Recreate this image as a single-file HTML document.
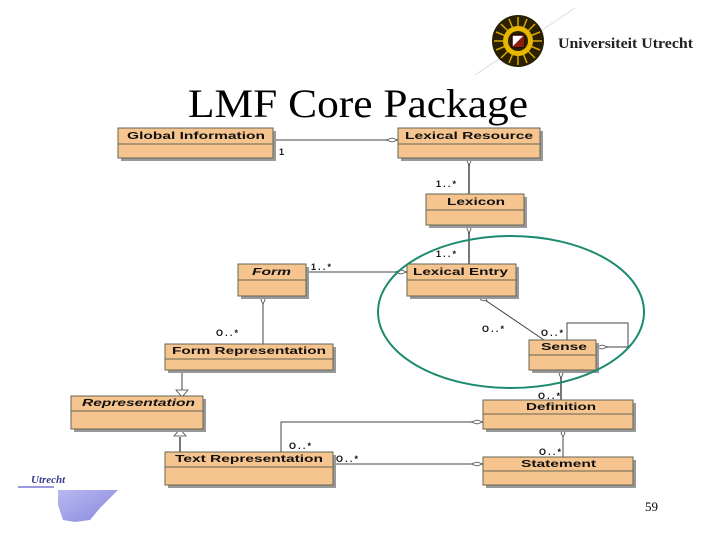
<!DOCTYPE html>
<html><head><style>html,body{margin:0;padding:0;background:#fff}svg{display:block}</style></head>
<body>
<svg width="720" height="540" viewBox="0 0 720 540" xmlns="http://www.w3.org/2000/svg" font-family="Liberation Sans, sans-serif">
<defs>
<linearGradient id="lg" x1="0" y1="0" x2="1" y2="1"><stop offset="0" stop-color="#b8b8f0"/><stop offset="1" stop-color="#8888e0"/></linearGradient>
</defs>
<line x1="475" y1="75" x2="575" y2="8" stroke="#ddd" stroke-width="1"/>
<g transform="translate(518,41)">
<circle r="26" fill="#2a2000"/>
<g stroke="#d8a800" stroke-width="1.5">
<line x1="-24" y1="0" x2="24" y2="0"/><line x1="0" y1="-24" x2="0" y2="24"/>
<line x1="-17" y1="-17" x2="17" y2="17"/><line x1="-17" y1="17" x2="17" y2="-17"/>
<line x1="-22" y1="-9" x2="22" y2="9"/><line x1="-22" y1="9" x2="22" y2="-9"/>
<line x1="-9" y1="-22" x2="9" y2="22"/><line x1="9" y1="-22" x2="-9" y2="22"/>
</g>
<circle r="15" fill="#e8b800"/>
<circle r="10" fill="#2a2000"/>
<rect x="-6" y="-6" width="12" height="12" fill="#fff" stroke="#300" stroke-width="1.5"/>
<path d="M-6 6 L6 -6 L6 6 Z" fill="#8a2010"/>
</g>
<text x="558" y="48" font-family="Liberation Serif, serif" font-size="15" font-weight="bold" fill="#222" textLength="135" lengthAdjust="spacingAndGlyphs">Universiteit Utrecht</text>
<text x="188" y="117" font-family="Liberation Serif, serif" font-size="40" fill="#000" textLength="340" lengthAdjust="spacingAndGlyphs">LMF Core Package</text>
<text x="31" y="483" font-family="Liberation Serif, serif" font-style="italic" font-weight="bold" font-size="11" fill="#3a3a90">Utrecht</text>
<rect x="18" y="486" width="36" height="2" fill="#9999dd"/>
<path d="M58 490 L118 490 L100 508 L90 520 L75 522 L63 520 L58 505 Z" fill="url(#lg)"/>
<text x="645" y="511" font-family="Liberation Serif, serif" font-size="13" fill="#000">59</text>

<g stroke="#444" stroke-width="1" fill="none">
<line x1="273" y1="140" x2="398" y2="140"/>
<line x1="469" y1="158" x2="469" y2="194" stroke-width="2" stroke="#777"/>
<line x1="469" y1="225" x2="469" y2="264" stroke-width="2" stroke="#777"/>
<line x1="306" y1="272" x2="407" y2="272"/>
<line x1="263" y1="296" x2="263" y2="344"/>
<line x1="482" y1="298" x2="544" y2="340"/>
<path d="M567 340 L567 323 L628 323 L628 347 L596 347"/>
<line x1="561" y1="370" x2="561" y2="400" stroke-width="2" stroke="#777"/>
<line x1="182" y1="370" x2="182" y2="390"/>
<line x1="180" y1="437" x2="180" y2="452" stroke-width="2" stroke="#777"/>
<path d="M281 452 L281 422 L483 422"/>
<line x1="333" y1="464" x2="483" y2="464"/>
<line x1="563" y1="432" x2="563" y2="457"/>
</g>
<g fill="#fff" stroke="#444" stroke-width="0.8">
<path d="M386 140 L392 138 L398 140 L392 142 Z"/>
<path d="M469 157 L471 161 L469 165 L467 161 Z"/>
<path d="M469 225 L471 229 L469 233 L467 229 Z"/>
<path d="M395 272 L401 270 L407 272 L401 274 Z"/>
<path d="M263 296 L265 300 L263 304 L261 300 Z"/>
<path d="M479 296 L485 297 L487 301 L481 300 Z"/>
<path d="M596 347 L602 345 L608 347 L602 349 Z"/>
<path d="M561 370 L563 374 L561 378 L559 374 Z"/>
<path d="M471 422 L477 420 L483 422 L477 424 Z"/>
<path d="M563 429 L565 433 L563 437 L561 433 Z"/>
<path d="M471 464 L477 462 L483 464 L477 466 Z"/>
<path d="M176 390 L188 390 L182 397 Z"/>
<path d="M174 436 L186 436 L180 429 Z"/>
</g>
<g font-size="9" fill="#111" font-weight="bold" lengthAdjust="spacingAndGlyphs">
<text x="279" y="155">1</text>
<text x="436" y="187" textLength="20">1..*</text>
<text x="436" y="257" textLength="20">1..*</text>
<text x="311" y="270" textLength="20">1..*</text>
<text x="216" y="336" textLength="22">O..*</text>
<text x="482" y="332" textLength="22">O..*</text>
<text x="541" y="336" textLength="22">O..*</text>
<text x="538" y="399" textLength="22">O..*</text>
<text x="289" y="449" textLength="22">O..*</text>
<text x="336" y="462" textLength="22">O..*</text>
<text x="539" y="455" textLength="22">O..*</text>
</g>

<g font-size="10" font-weight="bold" fill="#111">
<rect x="121" y="131" width="155" height="30" fill="#999"/>
<rect x="118" y="128" width="155" height="30" fill="#f5c48f" stroke="#665"/>
<line x1="118" y1="144" x2="273" y2="144" stroke="#665"/>
<text x="127" y="139" textLength="138" lengthAdjust="spacingAndGlyphs">Global Information</text>

<rect x="401" y="131" width="142" height="30" fill="#999"/>
<rect x="398" y="128" width="142" height="30" fill="#f5c48f" stroke="#665"/>
<line x1="398" y1="144" x2="540" y2="144" stroke="#665"/>
<text x="405" y="139" textLength="128" lengthAdjust="spacingAndGlyphs">Lexical Resource</text>

<rect x="429" y="197" width="98" height="31" fill="#999"/>
<rect x="426" y="194" width="98" height="31" fill="#f5c48f" stroke="#665"/>
<line x1="426" y1="210" x2="524" y2="210" stroke="#665"/>
<text x="447" y="205" textLength="58" lengthAdjust="spacingAndGlyphs">Lexicon</text>

<rect x="241" y="267" width="68" height="32" fill="#999"/>
<rect x="238" y="264" width="68" height="32" fill="#f5c48f" stroke="#665"/>
<line x1="238" y1="280" x2="306" y2="280" stroke="#665"/>
<text x="252" y="275" font-style="italic" textLength="39" lengthAdjust="spacingAndGlyphs">Form</text>

<rect x="410" y="267" width="109" height="32" fill="#999"/>
<rect x="407" y="264" width="109" height="32" fill="#f5c48f" stroke="#665"/>
<line x1="407" y1="280" x2="516" y2="280" stroke="#665"/>
<text x="413" y="275" textLength="95" lengthAdjust="spacingAndGlyphs">Lexical Entry</text>

<rect x="168" y="347" width="168" height="26" fill="#999"/>
<rect x="165" y="344" width="168" height="26" fill="#f5c48f" stroke="#665"/>
<line x1="165" y1="359" x2="333" y2="359" stroke="#665"/>
<text x="172" y="354" textLength="154" lengthAdjust="spacingAndGlyphs">Form Representation</text>

<rect x="532" y="343" width="67" height="30" fill="#999"/>
<rect x="529" y="340" width="67" height="30" fill="#f5c48f" stroke="#665"/>
<line x1="529" y1="355" x2="596" y2="355" stroke="#665"/>
<text x="541" y="350" textLength="46" lengthAdjust="spacingAndGlyphs">Sense</text>

<rect x="74" y="399" width="132" height="33" fill="#999"/>
<rect x="71" y="396" width="132" height="33" fill="#f5c48f" stroke="#665"/>
<line x1="71" y1="411" x2="203" y2="411" stroke="#665"/>
<text x="82" y="406" font-style="italic" textLength="113" lengthAdjust="spacingAndGlyphs">Representation</text>

<rect x="486" y="403" width="150" height="29" fill="#999"/>
<rect x="483" y="400" width="150" height="29" fill="#f5c48f" stroke="#665"/>
<line x1="483" y1="414" x2="633" y2="414" stroke="#665"/>
<text x="526" y="410" textLength="70" lengthAdjust="spacingAndGlyphs">Definition</text>

<rect x="168" y="455" width="168" height="33" fill="#999"/>
<rect x="165" y="452" width="168" height="33" fill="#f5c48f" stroke="#665"/>
<line x1="165" y1="467" x2="333" y2="467" stroke="#665"/>
<text x="175" y="462" textLength="148" lengthAdjust="spacingAndGlyphs">Text Representation</text>

<rect x="486" y="460" width="150" height="28" fill="#999"/>
<rect x="483" y="457" width="150" height="28" fill="#f5c48f" stroke="#665"/>
<line x1="483" y1="471" x2="633" y2="471" stroke="#665"/>
<text x="521" y="467" textLength="75" lengthAdjust="spacingAndGlyphs">Statement</text>
</g>
<ellipse cx="511" cy="312" rx="133" ry="76" fill="none" stroke="#1a8a70" stroke-width="2"/>
</svg>
</body></html>
